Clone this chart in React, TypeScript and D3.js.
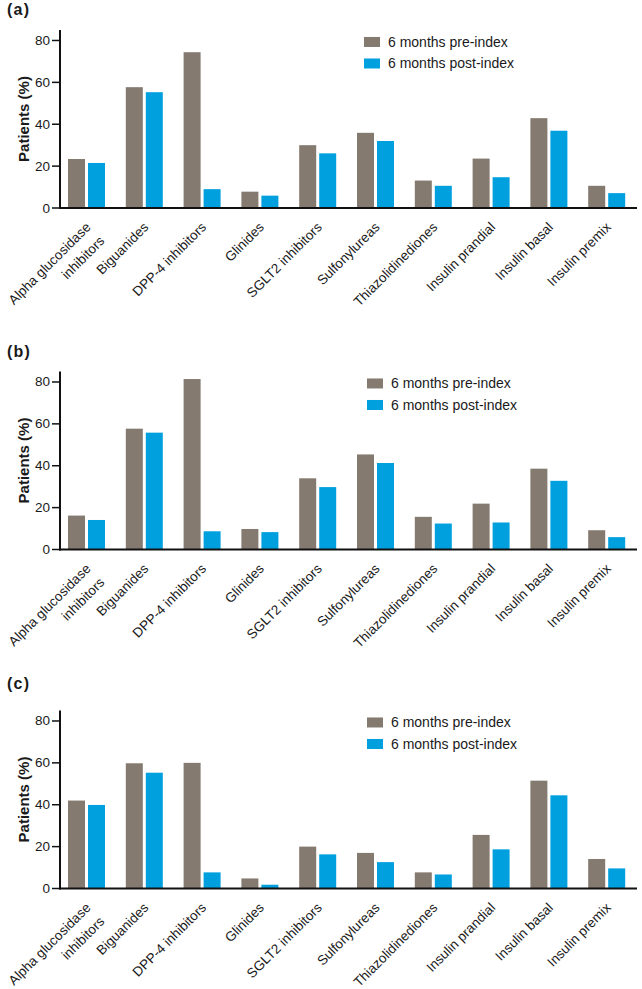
import React from "react";
import * as d3 from "d3";

const categories = [
  ["Alpha glucosidase", "inhibitors"],
  ["Biguanides"],
  ["DPP-4 inhibitors"],
  ["Glinides"],
  ["SGLT2 inhibitors"],
  ["Sulfonylureas"],
  ["Thiazolidinediones"],
  ["Insulin prandial"],
  ["Insulin basal"],
  ["Insulin premix"],
];
const seriesNames = ["6 months pre-index", "6 months post-index"];
const panelLabels = ["(a)", "(b)", "(c)"];
const yTicks = [0, 20, 40, 60, 80];

const preA = [23.4, 57.7, 74.4, 7.8, 30.0, 35.9, 13.1, 23.6, 42.9, 10.6];
const postA = [21.5, 55.3, 9.0, 5.9, 26.1, 32.0, 10.6, 14.7, 36.9, 7.1];
const preB = [16.2, 57.7, 81.4, 9.8, 34.0, 45.4, 15.6, 21.9, 38.6, 9.2];
const postB = [14.1, 55.8, 8.7, 8.3, 29.8, 41.3, 12.4, 12.9, 32.8, 5.9];
const preC = [42.0, 59.8, 60.0, 4.8, 20.0, 17.0, 7.7, 25.6, 51.5, 14.1];
const postC = [39.9, 55.3, 7.7, 1.8, 16.3, 12.6, 6.7, 18.7, 44.5, 9.6];

const panels = [
  { label: panelLabels[0], pre: preA, post: postA, zero: 208, labelY: 15, legendX: 364 },
  { label: panelLabels[1], pre: preB, post: postB, zero: 549.5, labelY: 357, legendX: 367 },
  { label: panelLabels[2], pre: preC, post: postC, zero: 888.5, labelY: 688.5, legendX: 367 },
];

const colors = ["#847a70", "#00a0df"];
const FONT = "'Liberation Sans', Arial, Helvetica, sans-serif";
const TEXT = "#1a1a1a";

function Panel({ p }: { p: (typeof panels)[number] }) {
  const axisX = 60;
  const y = d3.scaleLinear().domain([0, 85]).range([p.zero, p.zero - 85 * 2.094]);
  const x = d3
    .scaleBand<number>()
    .domain(d3.range(categories.length))
    .range([57.6, 635.6])
    .paddingInner(0.36)
    .paddingOuter(0.18);
  const xs = d3.scaleBand<number>().domain([0, 1]).range([0, x.bandwidth()]).paddingInner(0.15);
  const series = [p.pre, p.post];
  const legendY0 = y(80) + 1.5;
  return (
    <g>
      <text
        x={7}
        y={p.labelY}
        fontFamily={FONT}
        fontWeight="bold"
        fontSize={16}
        letterSpacing={1.2}
        fill={TEXT}
      >
        {p.label}
      </text>
      {series.map((vals, si) =>
        vals.map((v, i) => (
          <rect
            key={`${si}-${i}`}
            x={(x(i) as number) + (xs(si) as number)}
            y={y(v)}
            width={xs.bandwidth()}
            height={y(0) - y(v)}
            fill={colors[si]}
          />
        ))
      )}
      <line x1={axisX} x2={axisX} y1={y(85)} y2={y(0) + 1} stroke="#111" strokeWidth={2} />
      <line x1={axisX - 1} x2={637} y1={y(0)} y2={y(0)} stroke="#111" strokeWidth={2} />
      {yTicks.map((t) => (
        <g key={t}>
          <line x1={axisX - 8} x2={axisX} y1={y(t)} y2={y(t)} stroke="#111" strokeWidth={1.5} />
          <text
            x={axisX - 10}
            y={y(t)}
            textAnchor="end"
            dominantBaseline="central"
            fontFamily={FONT}
            fontSize={13.5}
            fill={TEXT}
          >
            {t}
          </text>
        </g>
      ))}
      <text
        transform={`translate(29,${(y(0) + y(85)) / 2}) rotate(-90)`}
        textAnchor="middle"
        fontFamily={FONT}
        fontWeight="bold"
        fontSize={15}
        fill={TEXT}
      >
        Patients (%)
      </text>
      {categories.map((lines, i) => {
        const cx = (x(i) as number) + x.bandwidth() / 2;
        return (
          <text
            key={i}
            transform={`translate(${cx + 5},${y(0) + 20}) rotate(-45)`}
            textAnchor="end"
            fontFamily={FONT}
            fontSize={13.5}
            fill={TEXT}
          >
            {lines.map((l, li) => (
              <tspan key={li} x={0} dy={li === 0 ? 0 : "1.45em"}>
                {l}
              </tspan>
            ))}
          </text>
        );
      })}
      {seriesNames.map((s, si) => (
        <g key={s}>
          <rect x={p.legendX} y={legendY0 + si * 21.5 - 5} width={16} height={10} fill={colors[si]} />
          <text
            x={p.legendX + 24}
            y={legendY0 + si * 21.5}
            dominantBaseline="central"
            fontFamily={FONT}
            fontSize={14}
            fill={TEXT}
          >
            {s}
          </text>
        </g>
      ))}
    </g>
  );
}

export default function App() {
  return (
    <svg
      width={642}
      height={989}
      viewBox="0 0 642 989"
      style={{ position: "absolute", left: 0, top: 0, background: "#fff" }}
    >
      <rect width={642} height={989} fill="#fff" />
      {panels.map((p) => (
        <Panel key={p.label} p={p} />
      ))}
    </svg>
  );
}
